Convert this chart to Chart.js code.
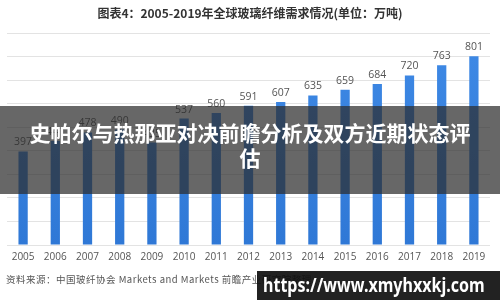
<!DOCTYPE html>
<html><head><meta charset="utf-8">
<script src="https://cdn.jsdelivr.net/npm/chart.js@4/dist/chart.umd.min.js"></script>
<style>
html,body{margin:0;padding:0;background:#fff;}
#wrap{position:relative;width:500px;height:300px;overflow:hidden;font-family:"Noto Sans CJK SC","Noto Sans",sans-serif;}
#c{position:absolute;left:0;top:0;}
#title{position:absolute;left:0;top:4px;width:500px;text-align:center;font-size:12px;font-weight:bold;color:#333;}
#src{position:absolute;left:6px;top:272px;font-size:9.5px;letter-spacing:0.5px;color:#555;white-space:nowrap;}
#band{position:absolute;left:0;top:106px;width:500px;height:88px;background:rgba(45,45,45,0.72);}
#bandtxt{position:absolute;left:20px;top:120px;width:460px;text-align:center;font-size:21px;line-height:25px;font-weight:bold;color:#fff;}
#wm{position:absolute;left:257px;top:271px;width:243px;height:29px;background:rgba(15,15,15,0.92);}
#wmtxt{position:absolute;left:263px;top:271px;height:29px;line-height:29px;font-family:"Noto Sans",sans-serif;font-size:19px;font-weight:bold;color:#fff;white-space:nowrap;transform-origin:0 50%;}
</style></head>
<body><div id="wrap">
<canvas id="c" width="500" height="300"></canvas>
<div id="title">图表4：2005-2019年全球玻璃纤维需求情况(单位：万吨)</div>
<div id="src">资料来源：中国玻纤协会 Markets and Markets 前瞻产业研究院整理</div>
<div id="band"></div>
<div id="bandtxt">史帕尔与热那亚对决前瞻分析及双方近期状态评估</div>
<div id="wm"></div>
<div id="wmtxt">https://www.xmyhxxkj.com</div>
</div>
<script>
const years = ["2005","2006","2007","2008","2009","2010","2011","2012","2013","2014","2015","2016","2017","2018","2019"];
const demand = [397,441,478,490,435,537,560,591,607,635,659,684,720,763,801];
const yTicks = [0,100,200,300,400,500,600,700,800,900];

(function(){const w=document.getElementById('wmtxt');const s=222/w.offsetWidth;w.style.transform='scaleX('+s+')';})();

const valueLabels = {
  id:'valueLabels',
  afterDatasetsDraw(chart){
    const ctx = chart.ctx;
    const meta = chart.getDatasetMeta(0);
    ctx.save();
    ctx.font = '10.5px "Open Sans", "Noto Sans", sans-serif';
    ctx.fillStyle = '#555';
    ctx.textAlign = 'center';
    ctx.textBaseline = 'alphabetic';
    meta.data.forEach((bar,i)=>{
      ctx.fillText(String(chart.data.datasets[0].data[i]), bar.x, bar.y - 6);
    });
    ctx.restore();
  }
};

const ctx = document.getElementById('c').getContext('2d');
new Chart(ctx,{
  type:'bar',
  data:{labels:years,datasets:[{
    data:demand,
    backgroundColor:(c)=>{
      const a=c.chart.chartArea; if(!a) return '#3380dd';
      const g=c.chart.ctx.createLinearGradient(0,a.top,0,a.bottom);
      g.addColorStop(0,'#3f8ae6'); g.addColorStop(1,'#2f78d6'); return g;
    },
    barPercentage:0.9,categoryPercentage:0.32
  }]},
  options:{
    responsive:false,animation:false,
    layout:{padding:{left:7,right:10,top:33,bottom:33}},
    plugins:{legend:{display:false},tooltip:{enabled:false},title:{display:false}},
    scales:{
      x:{grid:{display:false,drawTicks:false},border:{display:false},
         afterFit:(s)=>{s.height=22;},
         ticks:{color:'#555',font:{size:10,family:'"Open Sans","Noto Sans",sans-serif'},padding:6,maxRotation:0,autoSkip:false}},
      y:{min:0,max:900,afterBuildTicks:(s)=>{s.ticks=yTicks.map(v=>({value:v}));},
         afterFit:(s)=>{s.width=0;},
         grid:{color:'#e3e3e3',drawTicks:false},border:{display:false},
         ticks:{display:false}}
    }
  },
  plugins:[valueLabels]
});
</script>
</body></html>
